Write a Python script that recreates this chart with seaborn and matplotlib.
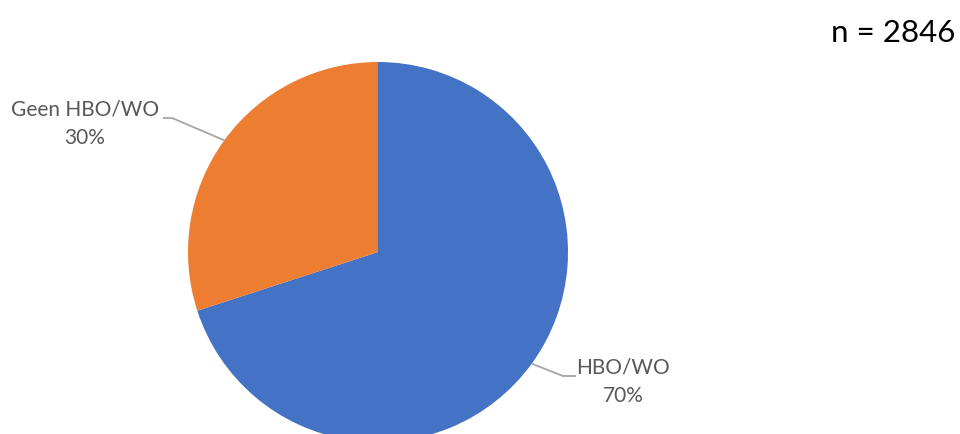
import numpy as np
import seaborn as sns
import matplotlib.pyplot as plt

sns.set_theme(style="white")
plt.rcParams['font.family'] = ['Lato', 'DejaVu Sans']

# data
categories = ['HBO/WO', 'Geen HBO/WO']
values = [70, 30]
n_total = 2846
colors = ['#4472C4', '#ED7D31']

W, H = 960, 434
fig = plt.figure(figsize=(W / 100, H / 100), dpi=100)
ax = fig.add_axes([0, 0, 1, 1])

cx, cy, r = 378, H - 252, 190
wedges, _ = ax.pie(values, colors=colors, startangle=90, counterclock=False,
                   center=(cx, cy), radius=r, frame=True,
                   wedgeprops=dict(linewidth=0))
ax.set_xlim(0, W)
ax.set_ylim(0, H)
ax.set_aspect('equal')
ax.axis('off')

# label placement in pixels: text centre x, first line y, line y, elbow x, end x
label_pos = {
    'HBO/WO': (623, 368, 376, 563, 576),
    'Geen HBO/WO': (85, 110, 118, 172, 163),
}
total = sum(values)
for w, cat, v in zip(wedges, categories, values):
    ang = np.deg2rad((w.theta1 + w.theta2) / 2)
    px, py = cx + r * np.cos(ang), cy + r * np.sin(ang)
    tx, ty, ly, ex, endx = label_pos[cat]
    ax.plot([px, ex, endx], [py, H - ly, H - ly], color='#A6A6A6', lw=1.3,
            solid_capstyle='butt')
    ax.text(tx, H - ty, cat, ha='center', va='center', fontsize=15, color='#595959')
    ax.text(tx, H - ty - 28, f"{round(v / total * 100)}%", ha='center', va='center',
            fontsize=15, color='#595959')

ax.text(955, H - 33, f"n = {n_total}", ha='right', va='center', fontsize=22.5,
        color='black')

fig.savefig('out.png', dpi=100)
